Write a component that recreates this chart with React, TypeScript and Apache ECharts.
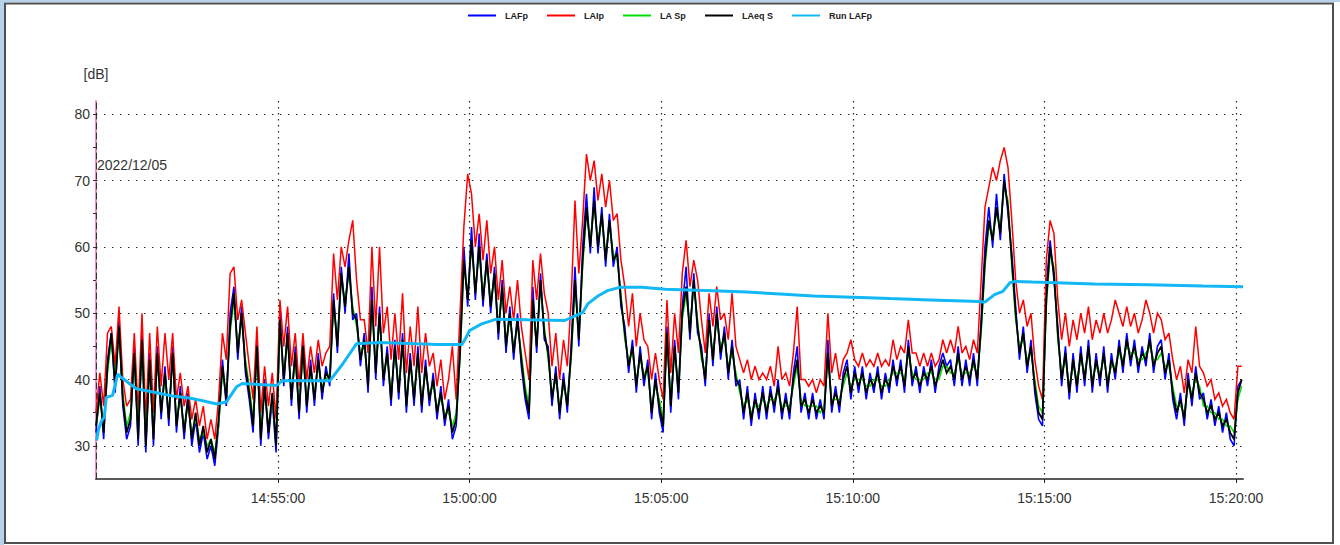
import React, { useEffect, useRef } from "react";
import * as echarts from "echarts";

// Measurement window and axis ticks
const startClock = "14:50:15";
const endClock = "15:20:11";
const sampleStep = 6; // seconds between level samples
const timeTickLabels = ["14:55:00", "15:00:00", "15:05:00", "15:10:00", "15:15:00", "15:20:00"];
const levelTickLabels = [30, 40, 50, 60, 70, 80];
const levelMinorTicks = [30, 35, 40, 45, 50, 55, 60, 65, 70, 75, 80];
const levelMin = 25;
const levelMax = 82;
const dateLabel = "2022/12/05";
const seriesNames = ["LAFp", "LAIp", "LA Sp", "LAeq S", "Run LAFp"];

// Sound levels in dB(A), one value every sampleStep seconds from startClock
const lafp = [
  32, 39, 31, 43, 47, 38, 49, 36, 31, 33, 45, 30, 47, 29, 44, 30, 45, 34, 42, 33,
  45, 32, 39, 31, 38, 30, 34, 29, 32, 28, 30, 27, 33, 43, 36, 50, 54, 43, 51, 41,
  37, 32, 46, 30, 40, 31, 37, 29, 50, 39, 48, 36, 45, 34, 46, 35, 43, 36, 44, 37,
  42, 39, 53, 44, 57, 50, 59, 49, 50, 42, 47, 38, 54, 40, 51, 39, 45, 36, 46, 37,
  47, 35, 44, 36, 45, 35, 43, 36, 41, 34, 39, 33, 37, 31, 33, 45, 60, 51, 63, 52,
  62, 51, 59, 50, 57, 46, 55, 44, 51, 43, 50, 42, 37, 34, 54, 44, 56, 46, 45, 36,
  42, 34, 41, 35, 45, 57, 45, 60, 68, 59, 69, 59, 66, 57, 65, 57, 60, 51, 48, 41,
  46, 38, 45, 39, 43, 34, 41, 35, 32, 48, 35, 46, 37, 51, 57, 46, 56, 47, 45, 39,
  50, 42, 51, 43, 48, 40, 46, 39, 40, 34, 39, 33, 38, 34, 39, 34, 39, 35, 40, 34,
  38, 34, 41, 45, 35, 38, 34, 38, 34, 37, 34, 46, 35, 39, 35, 41, 43, 37, 42, 38,
  42, 37, 41, 38, 42, 37, 41, 38, 43, 39, 43, 38, 46, 39, 42, 38, 42, 39, 43, 38,
  42, 44, 42, 43, 39, 45, 39, 43, 39, 44, 39, 49, 60, 66, 60, 68, 61, 71, 65, 59,
  51, 43, 48, 41, 46, 38, 34, 33, 54, 61, 55, 48, 39, 45, 37, 44, 38, 45, 39, 46,
  38, 44, 39, 45, 38, 44, 40, 46, 41, 47, 42, 46, 41, 45, 42, 47, 41, 45, 46, 40,
  44, 37, 34, 38, 33, 41, 36, 42, 37, 38, 34, 37, 33, 36, 32, 35, 31, 30, 39, 40,
];

const laip = [
  35, 41, 36, 47, 48, 42, 51, 40, 36, 37, 47, 35, 50, 34, 47, 35, 48, 39, 47, 40,
  47, 37, 41, 36, 39, 34, 37, 33, 36, 31, 34, 31, 37, 47, 43, 56, 57, 49, 52, 47,
  42, 37, 48, 35, 42, 36, 41, 34, 52, 45, 51, 42, 47, 39, 47, 40, 45, 41, 46, 42,
  44, 45, 59, 52, 60, 57, 61, 64, 55, 49, 49, 44, 60, 48, 60, 47, 51, 43, 50, 43,
  53, 41, 48, 42, 51, 41, 47, 42, 44, 39, 43, 37, 40, 45, 37, 50, 63, 71, 68, 60,
  65, 58, 64, 56, 60, 52, 58, 50, 54, 49, 55, 48, 44, 40, 58, 52, 59, 53, 50, 42,
  47, 40, 46, 42, 52, 67, 56, 64, 74, 70, 73, 67, 71, 66, 70, 64, 65, 58, 54, 48,
  53, 45, 50, 46, 45, 40, 44, 40, 37, 52, 41, 50, 44, 56, 61, 54, 58, 55, 49, 44,
  53, 48, 54, 49, 50, 46, 53, 45, 43, 41, 43, 40, 42, 40, 41, 40, 42, 39, 45, 40,
  41, 39, 44, 51, 40, 40, 39, 40, 38, 40, 39, 50, 41, 44, 40, 43, 44, 46, 43, 42,
  44, 42, 43, 42, 44, 42, 43, 42, 46, 43, 45, 44, 49, 44, 44, 42, 44, 42, 44, 42,
  43, 46, 44, 46, 44, 48, 44, 45, 43, 46, 44, 55, 66, 69, 72, 70, 73, 75, 72, 64,
  55, 50, 52, 48, 50, 43, 39, 37, 58, 64, 62, 52, 46, 50, 45, 49, 46, 50, 47, 51,
  46, 49, 47, 50, 47, 49, 52, 50, 48, 51, 48, 50, 47, 49, 52, 50, 47, 50, 49, 46,
  47, 43, 40, 42, 38, 43, 41, 48, 42, 41, 39, 40, 37, 38, 36, 37, 35, 34, 42, 42,
];

const las = [
  33, 37, 33, 41, 46, 40, 47, 38, 33, 35, 43, 32, 45, 31, 42, 32, 43, 36, 40, 35,
  43, 34, 37, 33, 36, 32, 34, 31, 32, 30, 31, 29, 33, 41, 38, 47, 52, 45, 49, 43,
  39, 34, 44, 32, 38, 33, 37, 31, 48, 41, 46, 38, 43, 36, 44, 37, 41, 38, 42, 39,
  40, 41, 51, 46, 55, 52, 56, 51, 48, 44, 45, 40, 51, 42, 49, 41, 43, 38, 44, 39,
  45, 37, 42, 38, 43, 37, 41, 38, 39, 36, 37, 35, 35, 33, 35, 43, 57, 53, 60, 54,
  59, 53, 57, 52, 55, 48, 53, 46, 49, 45, 48, 44, 39, 36, 51, 46, 54, 48, 43, 38,
  40, 36, 39, 37, 43, 54, 47, 57, 65, 61, 66, 61, 64, 59, 63, 59, 58, 53, 46, 43,
  44, 40, 43, 41, 41, 36, 39, 37, 34, 46, 37, 44, 39, 49, 53, 48, 54, 49, 43, 41,
  48, 44, 49, 45, 46, 42, 44, 41, 38, 36, 37, 35, 36, 36, 37, 36, 37, 37, 38, 36,
  36, 36, 39, 42, 37, 36, 36, 36, 36, 35, 36, 43, 37, 37, 37, 39, 41, 39, 40, 40,
  40, 39, 39, 40, 40, 39, 39, 40, 41, 41, 41, 40, 44, 41, 40, 40, 40, 41, 41, 40,
  40, 42, 42, 41, 41, 43, 41, 41, 41, 42, 41, 47, 57, 63, 62, 65, 63, 69, 67, 57,
  49, 45, 46, 43, 44, 40, 36, 35, 51, 59, 57, 46, 41, 43, 39, 42, 40, 43, 41, 44,
  40, 42, 41, 43, 40, 42, 42, 44, 43, 45, 44, 44, 43, 43, 44, 45, 43, 43, 44, 42,
  42, 39, 36, 36, 35, 39, 38, 40, 39, 36, 36, 35, 35, 34, 34, 33, 33, 32, 37, 39,
];

const laeqS = [
  33, 38, 32, 42, 47, 39, 48, 37, 32, 34, 44, 31, 46, 30, 43, 31, 44, 35, 41, 34,
  44, 33, 38, 32, 37, 31, 35, 30, 33, 29, 31, 28, 34, 42, 37, 48, 53, 44, 50, 42,
  38, 33, 45, 31, 39, 32, 38, 30, 49, 40, 47, 37, 44, 35, 45, 36, 42, 37, 43, 38,
  41, 40, 52, 45, 56, 51, 57, 50, 49, 43, 46, 39, 52, 41, 50, 40, 44, 37, 45, 38,
  46, 36, 43, 37, 44, 36, 42, 37, 40, 35, 38, 34, 36, 32, 34, 44, 58, 52, 61, 53,
  60, 52, 58, 51, 56, 47, 54, 45, 50, 44, 49, 43, 38, 35, 52, 45, 55, 47, 44, 37,
  41, 35, 40, 36, 44, 55, 46, 58, 66, 60, 67, 60, 65, 58, 64, 58, 59, 52, 47, 42,
  45, 39, 44, 40, 42, 35, 40, 36, 33, 47, 36, 45, 38, 50, 54, 47, 55, 48, 44, 40,
  49, 43, 50, 44, 47, 41, 45, 40, 39, 35, 38, 34, 37, 35, 38, 35, 38, 36, 39, 35,
  37, 35, 40, 43, 36, 37, 35, 37, 35, 36, 35, 44, 36, 38, 36, 40, 42, 38, 41, 39,
  41, 38, 40, 39, 41, 38, 40, 39, 42, 40, 42, 39, 45, 40, 41, 39, 41, 40, 42, 39,
  41, 43, 41, 42, 40, 44, 40, 42, 40, 43, 40, 48, 58, 64, 61, 66, 62, 70, 66, 58,
  50, 44, 47, 42, 45, 39, 35, 34, 52, 60, 56, 47, 40, 44, 38, 43, 39, 44, 40, 45,
  39, 43, 40, 44, 39, 43, 41, 45, 42, 46, 43, 45, 42, 44, 43, 46, 42, 44, 45, 41,
  43, 38, 35, 37, 34, 40, 37, 41, 38, 37, 35, 36, 34, 35, 33, 34, 32, 31, 38, 40,
];

// Running LAFp average: seconds after startClock and level in dB(A)
const runSeconds = [
  1, 4, 9, 13, 16, 26, 34, 40, 63, 95, 120, 146, 167, 189, 204, 220, 229, 283, 291, 366,
  386, 408, 444, 535, 573, 577, 585, 604, 627, 676, 734, 750, 762, 770, 786, 801, 820, 855,
  891, 966, 1019, 1071, 1123, 1185, 1243, 1306, 1371, 1392, 1407, 1420, 1431, 1439, 1466,
  1564, 1647, 1734, 1796,
];
const runLafp = [
  30.8, 32.5, 33.8, 34.3, 37.3, 37.6, 40.8, 40.3, 38.6, 38.0, 37.5, 37.2, 36.8, 36.3, 36.6,
  38.9, 39.4, 39.1, 39.8, 39.8, 42.3, 45.4, 45.6, 45.3, 45.3, 45.9, 47.4, 48.4, 49.1, 49.0,
  48.9, 49.6, 50.1, 51.4, 52.6, 53.4, 53.9, 53.9, 53.6, 53.4, 53.2, 52.9, 52.6, 52.4, 52.2,
  52.0, 51.8, 51.7, 52.8, 53.3, 54.6, 54.8, 54.7, 54.4, 54.3, 54.1, 54.0,
];

const seriesColors = ["#0000ff", "#ff0000", "#00e000", "#000000", "#12b8f5"];
const seriesWidths = [1.6, 1.5, 1.5, 1.8, 3];
const fontFamily = "'Liberation Sans', Arial, sans-serif";

const toSeconds = (clock: string) => {
  const [h, m, s] = clock.split(":").map(Number);
  return h * 3600 + m * 60 + s;
};
const pad = (n: number) => String(n).padStart(2, "0");
const toClock = (v: number) => {
  const t = Math.round(v);
  return `${Math.floor(t / 3600)}:${pad(Math.floor((t % 3600) / 60))}:${pad(t % 60)}`;
};

export default function App() {
  const ref = useRef<HTMLDivElement>(null);

  useEffect(() => {
    if (!ref.current) return;
    const chart = echarts.init(ref.current, null, { renderer: "svg" });
    const t0 = toSeconds(startClock);
    const t1 = toSeconds(endClock);
    const timeTicks = timeTickLabels.map(toSeconds);
    const sampled = (values: number[]) => values.map((v, i) => [t0 + i * sampleStep, v]);
    const noisyLine = (k: number, values: number[], extra: object = {}) => ({
      name: seriesNames[k],
      type: "line",
      data: sampled(values),
      showSymbol: false,
      symbol: "none",
      color: seriesColors[k],
      lineStyle: { color: seriesColors[k], width: seriesWidths[k], join: "miter", miterLimit: 3 },
      silent: true,
      ...extra,
    });

    chart.setOption({
      animation: false,
      backgroundColor: "#ffffff",
      textStyle: { fontFamily },
      graphic: [
        { type: "rect", silent: true, shape: { x: 0, y: 0, width: 1340, height: 2 }, style: { fill: "#b7d3ec" } },
        { type: "rect", silent: true, shape: { x: 0, y: 0, width: 4, height: 545 }, style: { fill: "#b7d3ec" } },
        {
          type: "rect",
          silent: true,
          shape: { x: 5, y: 3.5, width: 1328, height: 539.5 },
          style: { fill: "none", stroke: "#505050", lineWidth: 2 },
        },
      ],
      legend: {
        top: 6,
        left: "center",
        icon: "rect",
        itemWidth: 28,
        itemHeight: 2,
        itemGap: 19,
        data: seriesNames,
        selectedMode: false,
        textStyle: { fontSize: 9, fontWeight: "bold", color: "#222", fontFamily, padding: [0, 0, 0, 4] },
      },
      grid: { left: 96, right: 97, top: 101, bottom: 66, outerBoundsMode: "none" },
      xAxis: {
        type: "value",
        min: t0,
        max: t1,
        axisLine: { show: true, onZero: false, lineStyle: { color: "#5a5a5a", width: 2 } },
        axisTick: { show: true, customValues: timeTicks, length: 4, lineStyle: { color: "#222" } },
        axisLabel: {
          customValues: timeTicks,
          formatter: toClock,
          margin: 12,
          fontSize: 14,
          color: "#333",
          fontFamily,
        },
        splitLine: { show: true, lineStyle: { type: [1.4, 4.6], color: "#222", width: 1.2 } },
      },
      yAxis: [
        {
          type: "value",
          min: levelMin,
          max: levelMax,
          z: 1,
          name: "[dB]",
          nameLocation: "end",
          nameGap: 20,
          nameTextStyle: { fontSize: 14, color: "#333", fontFamily },
          axisLine: { show: true, lineStyle: { color: "#333", width: 1, type: [6, 4] } },
          axisTick: { show: false, customValues: levelTickLabels },
          axisLabel: { customValues: levelTickLabels, margin: 6, fontSize: 14, color: "#333", fontFamily },
          splitLine: { show: true, lineStyle: { type: [1.4, 6.6], color: "#222", width: 1.2 } },
        },
        {
          type: "value",
          min: levelMin,
          max: levelMax,
          position: "left",
          offset: 0,
          z: 0,
          axisLine: { show: true, lineStyle: { color: "#ff86c4", width: 2 } },
          axisTick: { show: true, customValues: levelMinorTicks, length: 3, lineStyle: { color: "#333" } },
          axisLabel: { show: false },
          splitLine: { show: false },
        },
      ],
      series: [
        noisyLine(0, lafp),
        noisyLine(1, laip),
        noisyLine(2, las),
        noisyLine(3, laeqS, {
          markPoint: {
            silent: true,
            symbol: "circle",
            symbolSize: 0,
            itemStyle: { color: "transparent" },
            label: {
              show: true,
              position: "right",
              distance: 1,
              formatter: dateLabel,
              fontSize: 14,
              color: "#333",
              fontFamily,
            },
            data: [{ coord: [t0, 72.3] }],
          },
        }),
        {
          name: seriesNames[4],
          type: "line",
          data: runSeconds.map((s, i) => [t0 + s, runLafp[i]]),
          showSymbol: false,
          symbol: "none",
          color: seriesColors[4],
          lineStyle: { color: seriesColors[4], width: seriesWidths[4] },
          silent: true,
        },
      ],
    });

    return () => chart.dispose();
  }, []);

  return (
    <div
      ref={ref}
      style={{ position: "absolute", left: 0, top: 0, width: 1340, height: 545, background: "#fff" }}
    />
  );
}
